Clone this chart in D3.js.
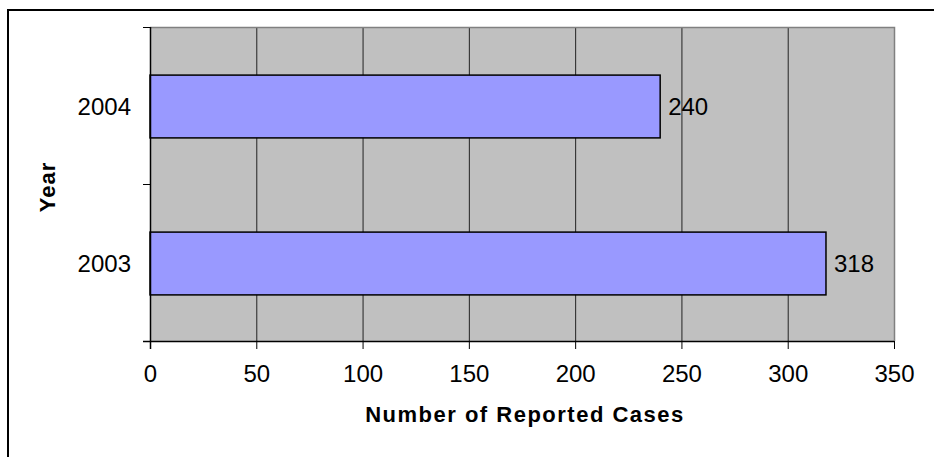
<!DOCTYPE html>
<html>
<head>
<meta charset="utf-8">
<script src="https://cdn.jsdelivr.net/npm/d3@7"></script>
<style>
  body { margin: 0; background: #fff; }
  text { font-family: "Liberation Sans", Arial, sans-serif; fill: #000; }
</style>
</head>
<body>
<svg id="chart" width="934" height="457"></svg>
<script>
var years = ["2004", "2003"];
var cases = [240, 318];
var xTicks = [0, 50, 100, 150, 200, 250, 300, 350];

var svg = d3.select('#chart');
var plotLeft = 150, plotRight = 894, plotTop = 27, plotBottom = 341;

// outer frame (only left/top edges fall inside the picture)
svg.append('rect')
	.attr('x', 8).attr('y', 10)
	.attr('width', 960).attr('height', 480)
	.attr('fill', 'none')
	.attr('stroke', '#000')
	.attr('stroke-width', 2);

var x = d3.scaleLinear().domain([0, 350]).range([plotLeft, plotRight]);
var y = d3.scaleBand().domain(years).range([plotTop, plotBottom])
	.paddingInner(0.6).paddingOuter(0.3);

// plot area
svg.append('rect')
	.attr('x', plotLeft).attr('y', plotTop)
	.attr('width', plotRight - plotLeft).attr('height', plotBottom - plotTop)
	.attr('fill', '#c0c0c0');

// gridlines
svg.append('g').selectAll('line')
	.data(xTicks.slice(1, -1))
	.enter().append('line')
	.attr('x1', d => x(d) + 0.5).attr('x2', d => x(d) + 0.5)
	.attr('y1', plotTop).attr('y2', plotBottom)
	.attr('stroke', '#222').attr('stroke-width', 1);

// top & right border of plot
svg.append('path')
	.attr('d', 'M' + plotLeft + ',' + (plotTop + 0.5) + 'H' + (plotRight + 0.5) + 'V' + plotBottom)
	.attr('fill', 'none').attr('stroke', '#808080').attr('stroke-width', 1.5);

// bars
svg.append('g').selectAll('rect')
	.data(years)
	.enter().append('rect')
	.attr('x', x(0))
	.attr('y', d => y(d) + 1)
	.attr('width', (d, i) => x(cases[i]) - x(0))
	.attr('height', y.bandwidth())
	.attr('fill', '#9999ff')
	.attr('stroke', '#000')
	.attr('stroke-width', 1.5);

// value labels
svg.append('g').selectAll('text')
	.data(years)
	.enter().append('text')
	.attr('x', (d, i) => x(cases[i]) + 8)
	.attr('y', d => y(d) + y.bandwidth() / 2 + 9)
	.style('font-size', '24px')
	.text((d, i) => cases[i]);

// x axis
var xAxis = svg.append('g')
	.attr('transform', 'translate(0,' + plotBottom + ')')
	.call(d3.axisBottom(x).tickValues(xTicks).tickSize(8).tickSizeOuter(0).tickPadding(16));
xAxis.select('.domain').attr('stroke', '#000').attr('stroke-width', 1.5)
	.attr('d', 'M' + (plotLeft - 7) + ',0.5H' + plotRight);
xAxis.selectAll('.tick line').attr('stroke', '#000');
xAxis.selectAll('.tick text')
	.style('font-size', '24px')
	.style('font-family', '"Liberation Sans", Arial, sans-serif')
	.attr('fill', '#000');

// y axis: labels at band centers, ticks at band edges
svg.append('line')
	.attr('x1', plotLeft + 0.5).attr('x2', plotLeft + 0.5)
	.attr('y1', plotTop).attr('y2', plotBottom + 8)
	.attr('stroke', '#000').attr('stroke-width', 1.5);

var edges = [plotTop, (plotTop + plotBottom) / 2, plotBottom];
svg.append('g').selectAll('line')
	.data(edges)
	.enter().append('line')
	.attr('x1', plotLeft - 7).attr('x2', plotLeft)
	.attr('y1', d => d + 0.5).attr('y2', d => d + 0.5)
	.attr('stroke', '#000');

svg.append('g').selectAll('text')
	.data(years)
	.enter().append('text')
	.attr('x', 131)
	.attr('y', d => y(d) + y.bandwidth() / 2 + 9)
	.attr('text-anchor', 'end')
	.style('font-size', '24px')
	.text(d => d);

// axis titles
svg.append('text')
	.attr('x', 525).attr('y', 422)
	.attr('text-anchor', 'middle')
	.style('font-size', '22px')
	.style('font-weight', 'bold')
	.style('letter-spacing', '1.5px')
	.text('Number of Reported Cases');

svg.append('text')
	.attr('transform', 'translate(55,187) rotate(-90)')
	.attr('text-anchor', 'middle')
	.style('font-size', '22px')
	.style('font-weight', 'bold')
	.style('letter-spacing', '1px')
	.text('Year');
</script>
</body>
</html>
